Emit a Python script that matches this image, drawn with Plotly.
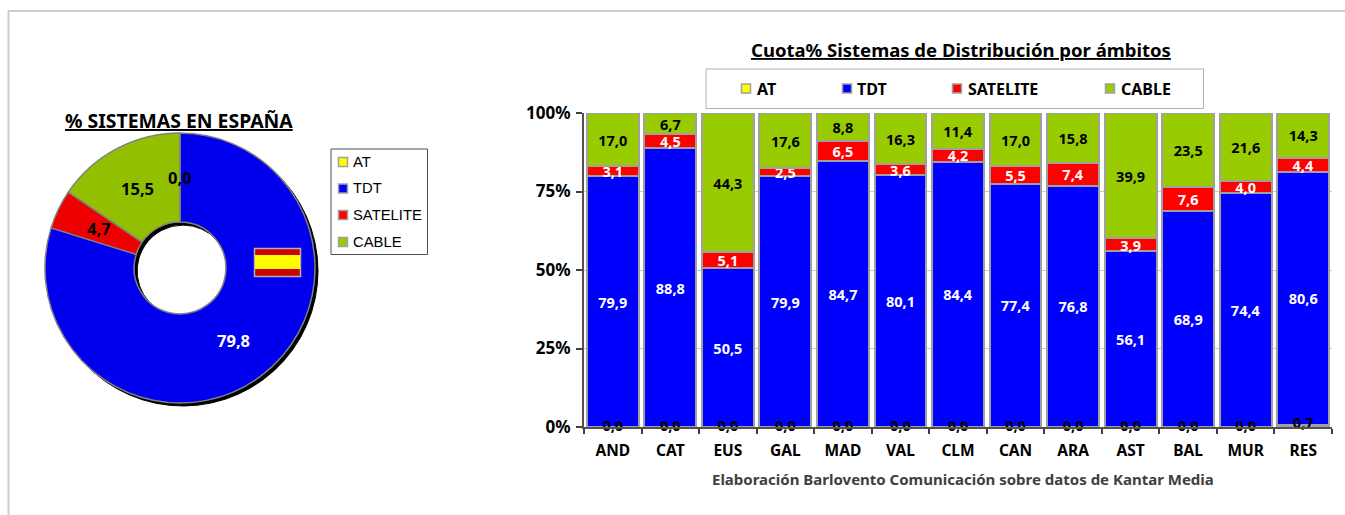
import math
import plotly.graph_objects as go

W, H = 1345, 515
SERIES = ["AT", "TDT", "SATELITE", "CABLE"]
COLORS = ["#ffff00", "#0000ff", "#ff0000", "#99cc00"]
PIE_COLORS = ["#ffff00", "#0000ee", "#ee0000", "#92c000"]
PIE_TEXT_COLORS = ["#000000", "#ffffff", "#000000", "#000000"]
PIE_VALUES = [0.0, 79.8, 4.7, 15.5]

AMBITOS = ["AND", "CAT", "EUS", "GAL", "MAD", "VAL", "CLM", "CAN", "ARA", "AST", "BAL", "MUR", "RES"]
AT = [0.0] * 12 + [0.7]
TDT = [79.9, 88.8, 50.5, 79.9, 84.7, 80.1, 84.4, 77.4, 76.8, 56.1, 68.9, 74.4, 80.6]
SATELITE = [3.1, 4.5, 5.1, 2.5, 6.5, 3.6, 4.2, 5.5, 7.4, 3.9, 7.6, 4.0, 4.4]
CABLE = [17.0, 6.7, 44.3, 17.6, 8.8, 16.3, 11.4, 17.0, 15.8, 39.9, 23.5, 21.6, 14.3]
Y_TICKS = [0, 25, 50, 75, 100]
Y_LABELS = ["0%", "25%", "50%", "75%", "100%"]

TITLE_BARS = "Cuota% Sistemas de Distribución por ámbitos"
TITLE_PIE = "% SISTEMAS EN ESPAÑA"
SOURCE = "Elaboración Barlovento Comunicación sobre datos de Kantar Media"

BOLD = "Noto Sans"
GRAY = "#a0a0a0"

# Donut geometry in page pixels
CX, CY, R_OUT = 180, 268, 135
HOLE = 0.34


def fmt(v):
    return f"{v:.1f}".replace(".", ",")


def px(x):
    return x / W


def py(y):
    return 1 - y / H


fig = go.Figure()


def pie_domain(dx, dy):
    return dict(x=[px(CX - R_OUT + dx), px(CX + R_OUT + dx)], y=[py(CY + R_OUT + dy), py(CY - R_OUT + dy)])


# Black copy offset for the shadow, then the coloured ring
fig.add_trace(go.Pie(
    values=PIE_VALUES, labels=SERIES, sort=False, direction="clockwise", rotation=0, hole=HOLE,
    domain=pie_domain(3, 3), marker=dict(colors=["#000000"] * 4, line=dict(color="#000000", width=1)),
    textinfo="none", showlegend=False, hoverinfo="skip",
))
fig.add_trace(go.Pie(
    values=PIE_VALUES, labels=SERIES, sort=False, direction="clockwise", rotation=0, hole=HOLE,
    domain=pie_domain(0, 0), marker=dict(colors=PIE_COLORS, line=dict(color="#808080", width=1.5)),
    textinfo="none", showlegend=False,
))

# Stacked bars
for name, vals, col, tcol in [
    ("AT", AT, COLORS[0], "#000000"),
    ("TDT", TDT, COLORS[1], "#ffffff"),
    ("SATELITE", SATELITE, COLORS[2], "#ffffff"),
    ("CABLE", CABLE, COLORS[3], "#000000"),
]:
    fig.add_trace(go.Bar(
        x=AMBITOS, y=vals, name=name, marker=dict(color=col, line=dict(color=GRAY, width=2)),
        text=None if name == "AT" else [fmt(v) for v in vals],
        textposition="inside", insidetextanchor="middle", textangle=0, constraintext="none",
        insidetextfont=dict(family=BOLD, size=14.5, color=tcol, weight="bold"),
        cliponaxis=False, showlegend=False,
    ))
# AT labels sit on the baseline, thin or empty segments cannot hold inside text
fig.add_trace(go.Scatter(
    x=AMBITOS, y=AT, mode="text", text=[fmt(v) for v in AT], textposition="middle center",
    textfont=dict(family=BOLD, size=14.5, color="#000000", weight="bold"),
    cliponaxis=False, showlegend=False, hoverinfo="skip",
))

shapes = [
    # Page frame
    dict(type="line", x0=px(8), x1=1, y0=py(11), y1=py(11), line=dict(color="#cccccc", width=2)),
    dict(type="line", x0=px(8.5), x1=px(8.5), y0=py(10), y1=0, line=dict(color="#cccccc", width=2)),
    # Spanish flag on the donut
    dict(type="rect", x0=px(254.5), x1=px(300.5), y0=py(248.5), y1=py(276.5), fillcolor="#cc0000", line=dict(color="#b0b0b0", width=1.5)),
    dict(type="rect", x0=px(255), x1=px(300), y0=py(255), y1=py(269), fillcolor="#ffff00", line=dict(width=0)),
    # Legend frames
    dict(type="rect", x0=px(331), x1=px(427.5), y0=py(149), y1=py(254.5), fillcolor="#ffffff", line=dict(color="#505050", width=1)),
    dict(type="rect", x0=px(706), x1=px(1203.5), y0=py(69), y1=py(108.5), fillcolor="#ffffff", line=dict(color="#b0b0b0", width=1)),
]
annotations = [
    dict(x=px(179), y=py(121), text=f"<u>{TITLE_PIE}</u>", font=dict(family=BOLD, size=19.4, color="#000000", weight="bold")),
    dict(x=px(960.5), y=py(50), text=f"<u>{TITLE_BARS}</u>", font=dict(family=BOLD, size=18.5, color="#000000", weight="bold")),
    dict(x=px(963), y=py(479), text=SOURCE, font=dict(family=BOLD, size=15, color="#404040", weight="bold")),
]

# Donut labels at the middle of each slice's ring
total = sum(PIE_VALUES)
R_MID = R_OUT * (1 + HOLE) / 2
start = 0.0
for v, tc in zip(PIE_VALUES, PIE_TEXT_COLORS):
    mid = 2 * math.pi * (start + v / 2) / total
    start += v
    annotations.append(dict(x=px(CX + R_MID * math.sin(mid)), y=py(CY - R_MID * math.cos(mid)), text=fmt(v),
                            font=dict(family=BOLD, size=16.5, color=tc, weight="bold")))

# Legend keys
for name, col, cy in zip(SERIES, COLORS, [162, 188.5, 215, 242]):
    shapes.append(dict(type="rect", x0=px(338.5), x1=px(347.5), y0=py(cy - 4.5), y1=py(cy + 4.5), fillcolor=col, line=dict(color=GRAY, width=1.5)))
    annotations.append(dict(x=px(351), y=py(cy), text=name, xanchor="left", font=dict(family="Liberation Sans", size=14.8, color="#000000")))
for name, col, cx in zip(SERIES, COLORS, [746, 847, 957, 1110]):
    shapes.append(dict(type="rect", x0=px(cx - 4.5), x1=px(cx + 4.5), y0=py(88.5 - 4.5), y1=py(88.5 + 4.5), fillcolor=col, line=dict(color=GRAY, width=1.5)))
    annotations.append(dict(x=px(cx + 8.5), y=py(88.5), text=name, xanchor="left", font=dict(family=BOLD, size=16, color="#000000", weight="bold")))
for a in annotations:
    a.update(xref="paper", yref="paper", showarrow=False, xanchor=a.get("xanchor", "center"), yanchor="middle")
for s in shapes:
    s.update(xref="paper", yref="paper", layer="above")

fig.update_layout(
    width=W, height=H, autosize=False, margin=dict(l=0, r=0, t=0, b=0, autoexpand=False),
    paper_bgcolor="#ffffff", plot_bgcolor="#ffffff", barmode="stack", barnorm="percent", bargap=0.1,
    showlegend=False, shapes=shapes, annotations=annotations,
    xaxis=dict(domain=[px(584), px(1332)], anchor="y", type="category", categoryorder="array", categoryarray=AMBITOS,
               range=[-0.5, 12.5], automargin=False,
               tickson="boundaries", ticks="outside", ticklen=5, tickcolor="#404040", tickwidth=1.5, ticklabelstandoff=8,
               showgrid=False, showline=True, linecolor="#505050", linewidth=2, zeroline=False,
               tickfont=dict(family=BOLD, size=15.5, color="#000000", weight="bold")),
    yaxis=dict(domain=[py(427), py(113)], anchor="x", range=[0, 100], tickvals=Y_TICKS, ticktext=Y_LABELS, automargin=False,
               ticks="outside", ticklen=6, tickcolor="#404040", tickwidth=1.5, ticklabelstandoff=2, showgrid=True, gridcolor="#c8c8c8", gridwidth=1,
               showline=True, linecolor="#505050", linewidth=2, zeroline=False,
               tickfont=dict(family=BOLD, size=17, color="#000000", weight="bold")),
)

fig.write_html("out.html", config=dict(displayModeBar=False),
               post_script="document.body.style.margin='0';window.dispatchEvent(new Event('resize'));")
